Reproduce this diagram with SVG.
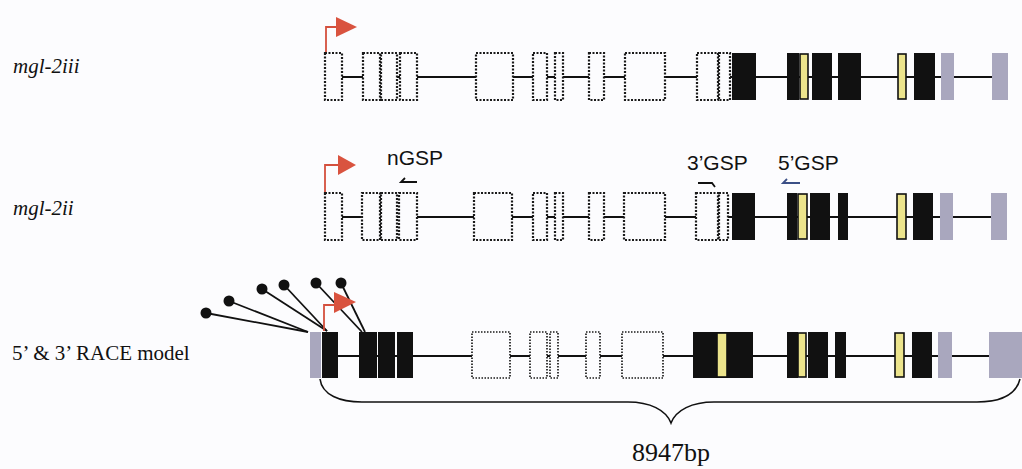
<svg xmlns="http://www.w3.org/2000/svg" width="1022" height="469" viewBox="0 0 1022 469">
<style>
.bg{fill:#fcfcfe}
.nc{fill:#fcfcfe;stroke:#1a1a1a;stroke-width:2.2;stroke-dasharray:2 1.5}
.nc3{fill:#fcfcfe;stroke:#1a1a1a;stroke-width:1.7;stroke-dasharray:1.5 1.5}
.cd{fill:#111}
.ut{fill:#a9a7be}
.yl{fill:#ece48c;stroke:#111;stroke-width:1.6}
.intron{stroke:#111;stroke-width:1.8;fill:none}
.prom{stroke:#d4503e;stroke-width:1.8;fill:none}
.promhead{fill:#d9533f}
.lab{font-family:"Liberation Serif","Times New Roman",serif;font-size:21px;fill:#111}
.it{font-style:italic}
.gsp{font-family:"Liberation Sans",Arial,sans-serif;font-size:21px;fill:#111}
.primer{stroke:#111;stroke-width:1.8;fill:none}
.race{stroke:#111;stroke-width:1.8}
.brace{stroke:#111;stroke-width:1.6;fill:none}
</style>
<rect class="bg" x="0" y="0" width="1022" height="469"/>

<g id="connectors">
  <line class="intron" x1="342" y1="77" x2="992" y2="77"/>
  <line class="intron" x1="342" y1="217" x2="991" y2="217"/>
  <line class="intron" x1="338" y1="356" x2="989" y2="356"/>
  <line class="race" x1="206" y1="313" x2="308" y2="332"/>
  <line class="race" x1="229" y1="301" x2="308" y2="332"/>
  <line class="race" x1="262" y1="289" x2="327" y2="331"/>
  <line class="race" x1="284" y1="285" x2="327" y2="331"/>
  <line class="race" x1="316" y1="283" x2="362" y2="332"/>
  <line class="race" x1="341" y1="283" x2="365" y2="332"/>
  <path class="brace" d="M320,379 C322,395 340,402 362,402 H628 C650,402 666,410 671,423 C676,410 692,402 714,402 H977 C1000,402 1016,395 1020,379"/>
</g>

<g id="label-mgl-2iii"><text class="lab it" x="13" y="73">mgl-2iii</text></g>
<g id="label-mgl-2ii"><text class="lab it" x="13" y="215">mgl-2ii</text></g>
<g id="label-race"><text class="lab" x="12" y="360">5’ &amp; 3’ RACE model</text></g>

<g id="mgl-2iii">
  <path class="prom" d="M326,53 V27 H337"/>
  <polygon class="promhead" points="336,17 357,27 336,37"/>
  <rect class="nc" x="325" y="53" width="17" height="47"/>
  <rect class="nc" x="363" y="53" width="17" height="47"/>
  <rect class="nc" x="381" y="53" width="16" height="47"/>
  <rect class="nc" x="400" y="53" width="17" height="47"/>
  <rect class="nc" x="476" y="53" width="37" height="47"/>
  <rect class="nc" x="533" y="53" width="14" height="47"/>
  <rect class="nc" x="555" y="53" width="8" height="47"/>
  <rect class="nc" x="589" y="53" width="15" height="47"/>
  <rect class="nc" x="625" y="53" width="40" height="47"/>
  <rect class="nc" x="697" y="53" width="21" height="47"/>
  <rect class="nc" x="719" y="53" width="11" height="47"/>
  <rect class="cd" x="732" y="53" width="24" height="47"/>
  <rect class="cd" x="787" y="53" width="12" height="47"/>
  <rect class="yl" x="800" y="54" width="8" height="45"/>
  <rect class="cd" x="812" y="53" width="20" height="47"/>
  <rect class="cd" x="838" y="53" width="23" height="47"/>
  <rect class="yl" x="898" y="54" width="8" height="45"/>
  <rect class="cd" x="914" y="53" width="21" height="47"/>
  <rect class="ut" x="941" y="53" width="13" height="47"/>
  <rect class="ut" x="992" y="53" width="16" height="47"/>
</g>

<g id="mgl-2ii">
  <path class="prom" d="M325,193 V165 H339"/>
  <polygon class="promhead" points="338,155 356,165 338,175"/>
  <rect class="nc" x="325" y="193" width="17" height="47"/>
  <rect class="nc" x="362" y="193" width="18" height="47"/>
  <rect class="nc" x="381" y="193" width="16" height="47"/>
  <rect class="nc" x="399" y="193" width="18" height="47"/>
  <rect class="nc" x="474" y="193" width="38" height="47"/>
  <rect class="nc" x="533" y="193" width="14" height="47"/>
  <rect class="nc" x="555" y="193" width="8" height="47"/>
  <rect class="nc" x="589" y="193" width="15" height="47"/>
  <rect class="nc" x="624" y="193" width="41" height="47"/>
  <rect class="nc" x="696" y="193" width="22" height="47"/>
  <rect class="nc" x="719" y="193" width="9" height="47"/>
  <rect class="cd" x="732" y="193" width="23" height="47"/>
  <rect class="cd" x="787" y="193" width="10" height="47"/>
  <rect class="yl" x="798" y="194" width="9" height="45"/>
  <rect class="cd" x="810" y="193" width="20" height="47"/>
  <rect class="cd" x="838" y="193" width="10" height="47"/>
  <rect class="yl" x="897" y="194" width="9" height="45"/>
  <rect class="cd" x="913" y="193" width="20" height="47"/>
  <rect class="ut" x="940" y="193" width="13" height="47"/>
  <rect class="ut" x="991" y="193" width="16" height="47"/>
</g>

<g id="primer-nGSP">
  <text class="gsp" x="387" y="165">nGSP</text>
  <path class="primer" d="M405,178 L401,182 H417"/>
</g>
<g id="primer-3GSP">
  <text class="gsp" x="687" y="170">3’GSP</text>
  <path class="primer" d="M698,183 H712 L715,187"/>
</g>
<g id="primer-5GSP">
  <text class="gsp" x="778" y="170">5’GSP</text>
  <path class="primer" style="stroke:#3b4f86" d="M787,179 L783,183 H800"/>
</g>

<g id="race-model">
  <rect class="ut" x="310" y="332" width="11" height="46"/>
  <rect class="cd" x="322" y="332" width="16" height="46"/>
  <rect class="cd" x="359" y="332" width="18" height="46"/>
  <rect class="cd" x="378" y="332" width="17" height="46"/>
  <rect class="cd" x="397" y="332" width="16" height="46"/>
  <rect class="nc3" x="472" y="332" width="38" height="46"/>
  <rect class="nc3" x="530" y="332" width="17" height="46"/>
  <rect class="nc3" x="550" y="332" width="8" height="46"/>
  <rect class="nc3" x="586" y="332" width="14" height="46"/>
  <rect class="nc3" x="622" y="332" width="41" height="46"/>
  <rect class="cd" x="693" y="332" width="60" height="46"/>
  <rect class="yl" x="717" y="333" width="10" height="44"/>
  <rect class="cd" x="787" y="332" width="11" height="46"/>
  <rect class="yl" x="798" y="333" width="8" height="44"/>
  <rect class="cd" x="808" y="332" width="20" height="46"/>
  <rect class="cd" x="835" y="332" width="11" height="46"/>
  <rect class="yl" x="895" y="333" width="9" height="44"/>
  <rect class="cd" x="912" y="332" width="20" height="46"/>
  <rect class="ut" x="938" y="332" width="14" height="46"/>
  <rect class="ut" x="989" y="332" width="33" height="46"/>
  <path class="prom" d="M324,331 V305 H335"/>
  <polygon class="promhead" points="334,292 356,302 334,313"/>
  <circle class="cd" cx="206" cy="313" r="5.5"/>
  <circle class="cd" cx="229" cy="301" r="5.5"/>
  <circle class="cd" cx="262" cy="289" r="5.5"/>
  <circle class="cd" cx="284" cy="285" r="5.5"/>
  <circle class="cd" cx="316" cy="283" r="5.5"/>
  <circle class="cd" cx="341" cy="283" r="5.5"/>
</g>

<g id="length-label">
  <text class="lab" x="671" y="461" text-anchor="middle" style="font-size:26px">8947bp</text>
</g>
</svg>
